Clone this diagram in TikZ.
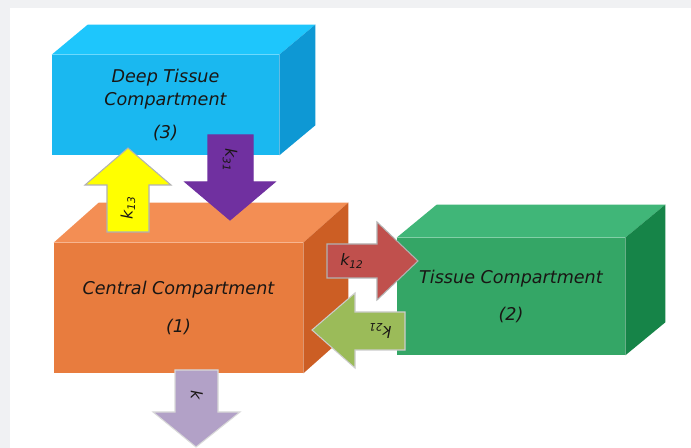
\documentclass[tikz,border=0pt]{standalone}
\usepackage{fontspec}
\setmainfont{DejaVu Sans}
\definecolor{pageGray}{RGB}{240,241,243}
\definecolor{deepFront}{RGB}{26,184,240}
\definecolor{deepTop}{RGB}{30,198,252}
\definecolor{deepSide}{RGB}{14,152,212}
\definecolor{centFront}{RGB}{232,124,62}
\definecolor{centTop}{RGB}{243,142,84}
\definecolor{centSide}{RGB}{204,94,36}
\definecolor{tisFront}{RGB}{52,166,102}
\definecolor{tisTop}{RGB}{64,182,120}
\definecolor{tisSide}{RGB}{22,132,72}
\definecolor{arrYellow}{RGB}{255,255,0}
\definecolor{arrPurple}{RGB}{112,48,160}
\definecolor{arrRed}{RGB}{192,80,77}
\definecolor{arrGreen}{RGB}{155,187,89}
\definecolor{arrLilac}{RGB}{178,161,199}
\definecolor{txtDark}{RGB}{25,22,20}

\begin{document}
\begin{tikzpicture}[
x=0.02cm, y=-0.02cm,
box/.style = {
	inner sep=0pt,
	align=center,
	text=txtDark,
	font=\fontsize{10}{13}\selectfont\itshape
	},
arr/.style = {
	draw=gray!60,
	line width=0.6pt
	},
klab/.style = {
	inner sep=0pt,
	text=txtDark,
	font=\fontsize{9}{10}\selectfont\itshape
	}
]

% BACKGROUND
\fill [pageGray] (0,0) rectangle (691,448);
\fill [white] (10,8) rectangle (691,448);
\useasboundingbox (0,0) rectangle (691,448);

% COMPARTMENTS
\node [box, fill=deepFront, minimum width=4.54cm, minimum height=2cm] (deep) at (165.5,105) {Deep Tissue\\Compartment\\[6pt](3)};
\fill [deepTop] (deep.north west) -- ++(36,-30) -- ([shift={(36,-30)}]deep.north east) -- (deep.north east) -- cycle;
\fill [deepSide] (deep.north east) -- ++(36,-30) -- ([shift={(36,-30)}]deep.south east) -- (deep.south east) -- cycle;

\node [box, fill=centFront, minimum width=4.98cm, minimum height=2.6cm] (central) at (178.5,308) {Central Compartment\\[8.5pt](1)};
\fill [centTop] (central.north west) -- ++(45,-40) -- ([shift={(45,-40)}]central.north east) -- (central.north east) -- cycle;
\fill [centSide] (central.north east) -- ++(45,-40) -- ([shift={(45,-40)}]central.south east) -- (central.south east) -- cycle;

\node [box, fill=tisFront, minimum width=4.56cm, minimum height=2.34cm] (tissue) at (511,296.5) {Tissue Compartment\\[8pt](2)};
\fill [tisTop] (tissue.north west) -- ++(40,-33) -- ([shift={(40,-33)}]tissue.north east) -- (tissue.north east) -- cycle;
\fill [tisSide] (tissue.north east) -- ++(40,-33) -- ([shift={(40,-33)}]tissue.south east) -- (tissue.south east) -- cycle;

% RATE ARROWS
\draw [arr, fill=arrYellow] (107,232) -- (107,185) -- (85,185) -- (128,148) -- (171,185) -- (149,185) -- (149,232) -- cycle;
\node [klab, rotate=90] (k13) at (128,208) {k\textsubscript{13}};

\draw [arr, draw=arrPurple, fill=arrPurple] (208,135) -- (253,135) -- (253,182) -- (275,182) -- (230,220) -- (185,182) -- (208,182) -- cycle;
\node [klab, rotate=-90] (k31) at (230,160) {k\textsubscript{31}};

\draw [arr, fill=arrRed] (327,244) -- (377,244) -- (377,222) -- (418,261) -- (377,300) -- (377,278) -- (327,278) -- cycle;
\node [klab] (k12) at (352,261) {k\textsubscript{12}};

\draw [arr, draw=gray!40, fill=arrGreen] (405,312) -- (405,350) -- (355,350) -- (355,368) -- (312,330) -- (355,293) -- (355,312) -- cycle;
\node [klab, rotate=180] (k21) at (380,331) {k\textsubscript{21}};

\draw [arr, draw=gray!30, fill=arrLilac] (175,370) -- (218,370) -- (218,412) -- (240,412) -- (196,447) -- (153,412) -- (175,412) -- cycle;
\node [klab, rotate=-90] (kel) at (197,395) {k};
\end{tikzpicture}
\end{document}
